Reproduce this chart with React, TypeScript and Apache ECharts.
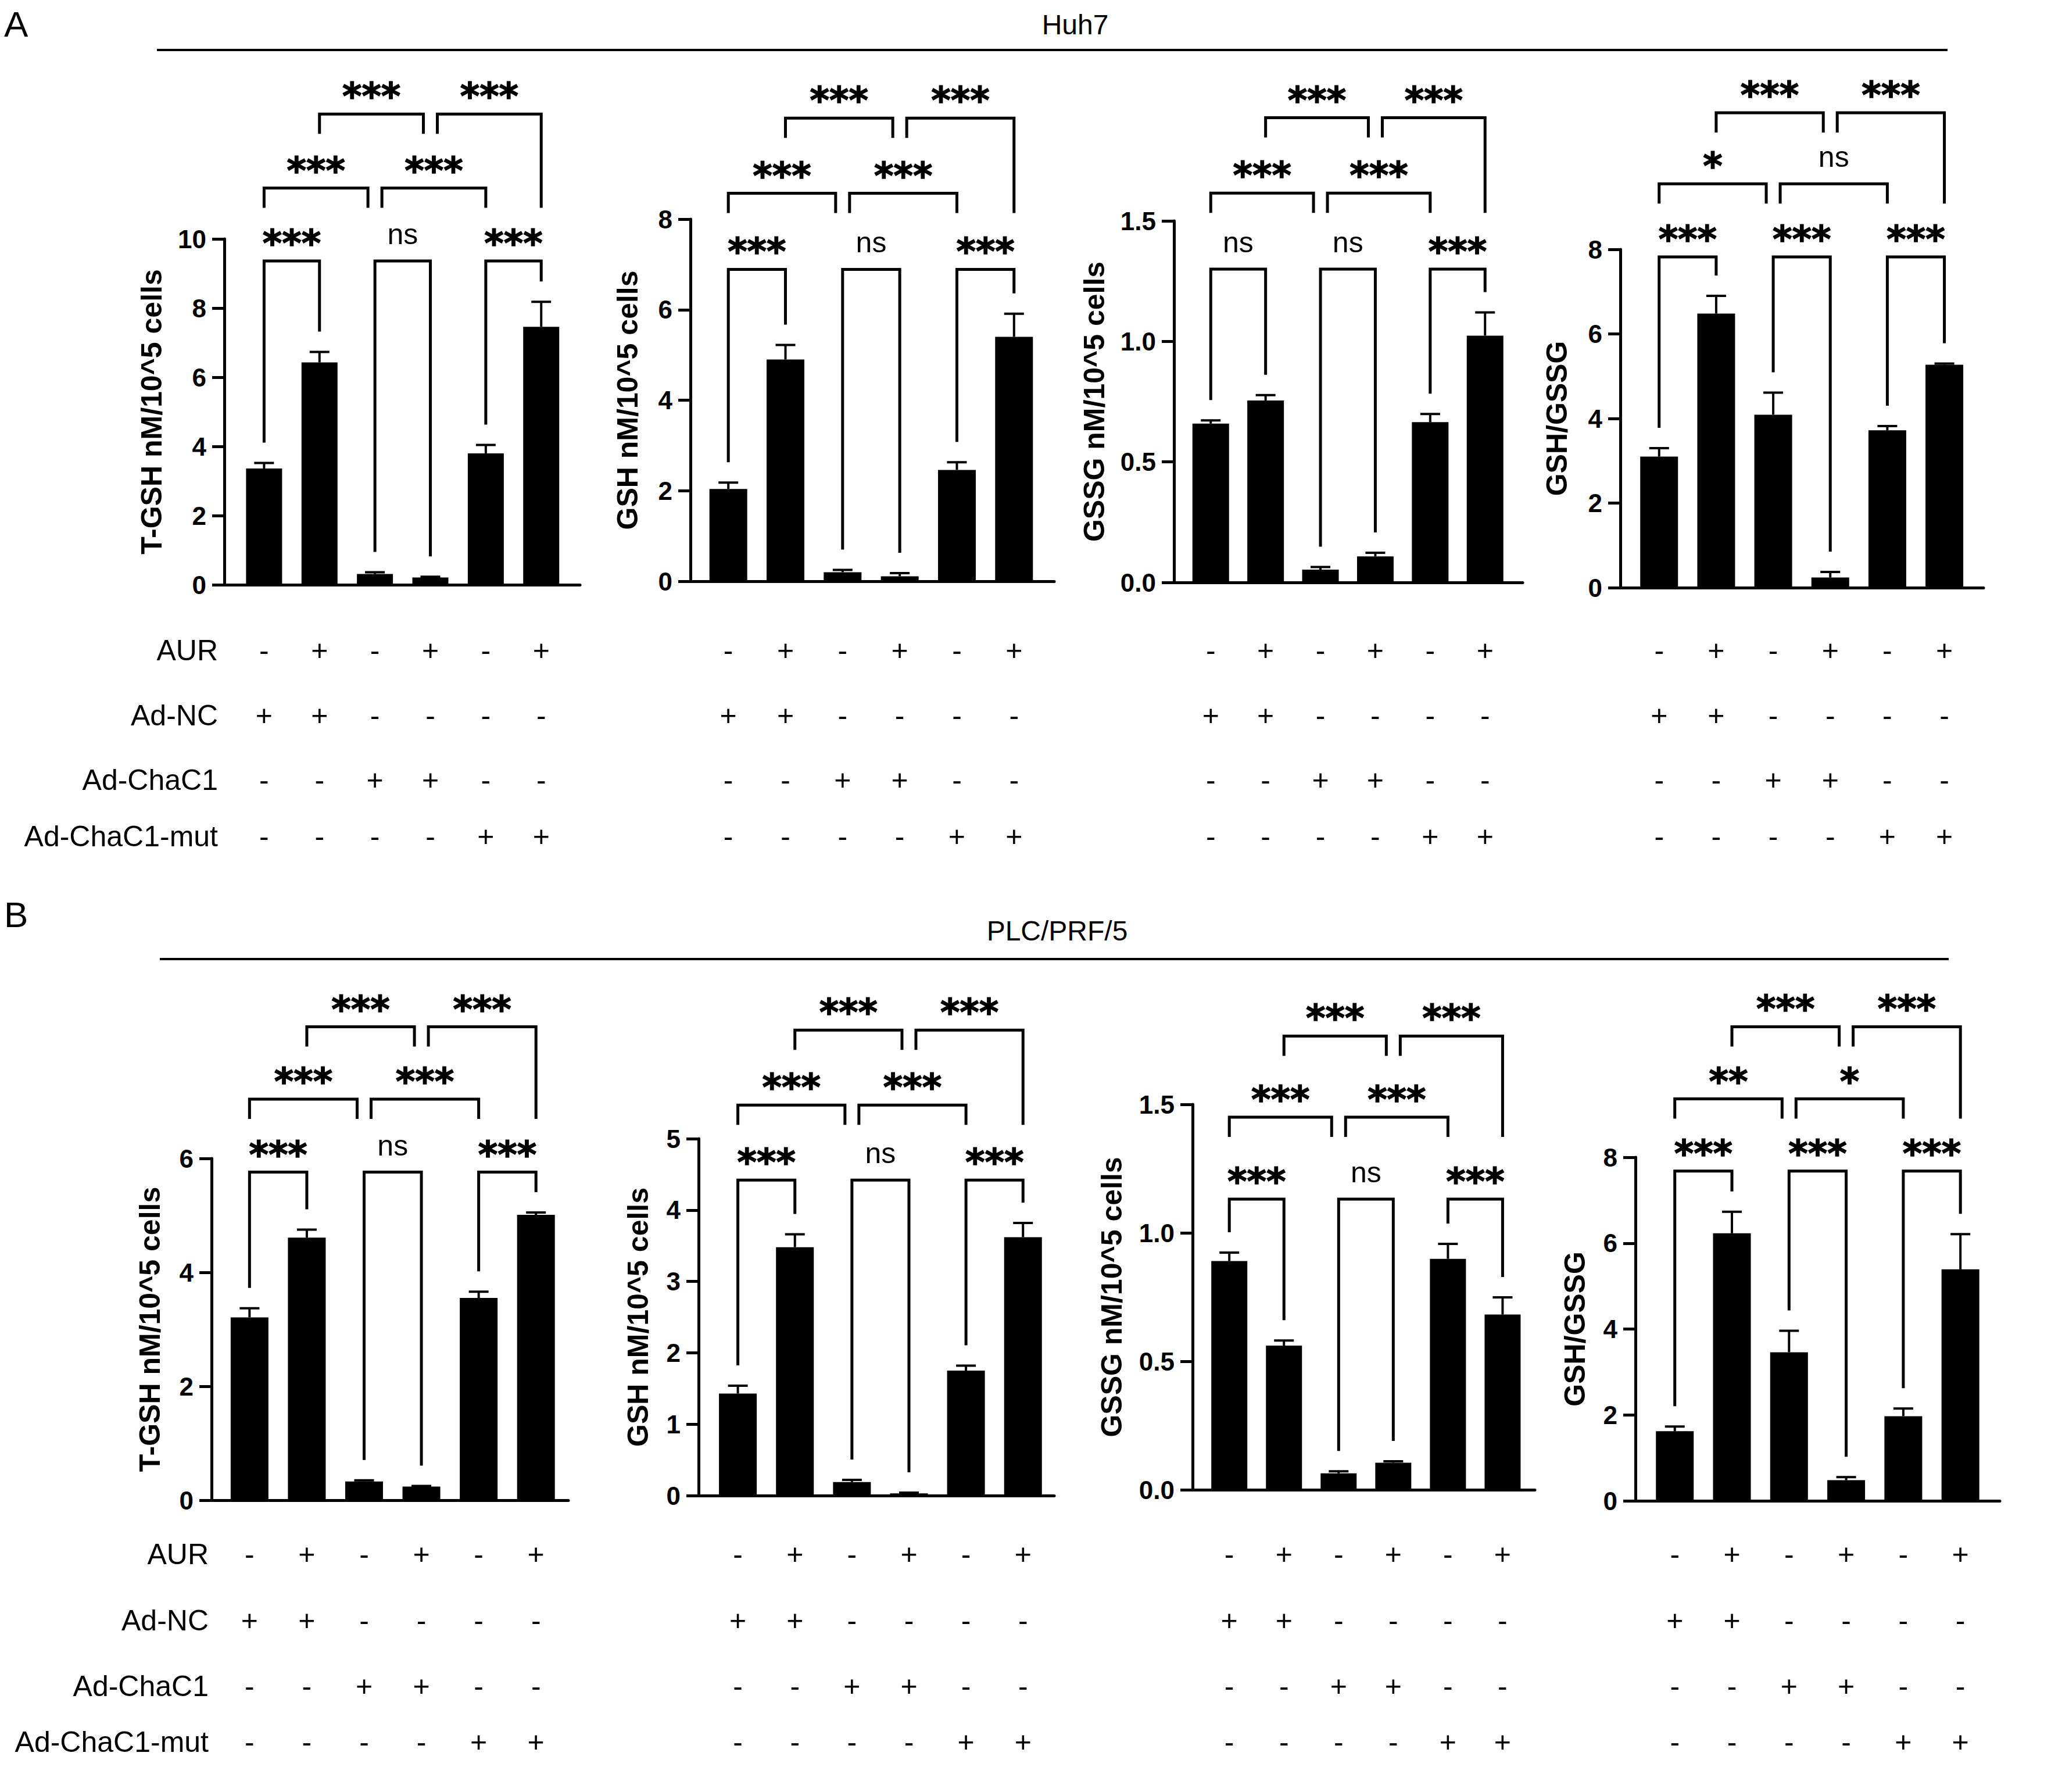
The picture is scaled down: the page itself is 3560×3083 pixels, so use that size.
import React, { useEffect, useRef } from "react";
import * as echarts from "echarts";

// ---------- treatment table (shared by every panel) ----------
const conditionNames = ["AUR", "Ad-NC", "Ad-ChaC1", "Ad-ChaC1-mut"];
const aurRow = ["-", "+", "-", "+", "-", "+"];
const adNcRow = ["+", "+", "-", "-", "-", "-"];
const adChac1Row = ["-", "-", "+", "+", "-", "-"];
const adChac1MutRow = ["-", "-", "-", "-", "+", "+"];
const conditionRows = [aurRow, adNcRow, adChac1Row, adChac1MutRow];

// ---------- Huh7 ----------
const huh7TgshMean = [3.36, 6.43, 0.31, 0.21, 3.8, 7.46];
const huh7TgshSem = [0.16, 0.3, 0.05, 0.02, 0.24, 0.72];
const huh7GshMean = [2.04, 4.9, 0.2, 0.11, 2.46, 5.4];
const huh7GshSem = [0.14, 0.32, 0.05, 0.07, 0.17, 0.51];
const huh7GssgMean = [0.659, 0.755, 0.053, 0.108, 0.665, 1.024];
const huh7GssgSem = [0.013, 0.022, 0.011, 0.015, 0.034, 0.096];
const huh7RatioMean = [3.1, 6.48, 4.09, 0.24, 3.72, 5.27];
const huh7RatioSem = [0.2, 0.42, 0.52, 0.13, 0.1, 0.03];

// ---------- PLC/PRF/5 ----------
const plcTgshMean = [3.21, 4.61, 0.33, 0.24, 3.55, 5.01];
const plcTgshSem = [0.16, 0.14, 0.02, 0.01, 0.11, 0.04];
const plcGshMean = [1.43, 3.48, 0.19, 0.03, 1.75, 3.62];
const plcGshSem = [0.11, 0.18, 0.03, 0.01, 0.07, 0.2];
const plcGssgMean = [0.89, 0.561, 0.064, 0.105, 0.899, 0.682];
const plcGssgSem = [0.033, 0.02, 0.008, 0.006, 0.058, 0.067];
const plcRatioMean = [1.62, 6.23, 3.46, 0.48, 1.97, 5.39];
const plcRatioSem = [0.11, 0.5, 0.5, 0.07, 0.18, 0.82];

// significance marks, in bracket order:
// 1v2, 3v4, 5v6 | 1v3, 3v5 | 2v4, 4v6
const huh7TgshSig = ["***", "ns", "***", "***", "***", "***", "***"];
const huh7GshSig = ["***", "ns", "***", "***", "***", "***", "***"];
const huh7GssgSig = ["ns", "ns", "***", "***", "***", "***", "***"];
const huh7RatioSig = ["***", "***", "***", "*", "ns", "***", "***"];
const plcTgshSig = ["***", "ns", "***", "***", "***", "***", "***"];
const plcGshSig = ["***", "ns", "***", "***", "***", "***", "***"];
const plcGssgSig = ["***", "ns", "***", "***", "***", "***", "***"];
const plcRatioSig = ["***", "***", "***", "**", "*", "***", "***"];

// ---------- comparison brackets ----------
const bracketPairs = [
  { from: 0, to: 1, level: 0 },
  { from: 2, to: 3, level: 0 },
  { from: 4, to: 5, level: 0 },
  { from: 0, to: 2, level: 1, shiftR: -12 },
  { from: 2, to: 4, level: 1, shiftL: 12 },
  { from: 1, to: 3, level: 2, shiftR: -12 },
  { from: 3, to: 5, level: 2, shiftL: 12, rightEnd: 1 },
];

// ---------- layout ----------
const rowsYA = [1119, 1231, 1342, 1439];
const rowsYB = [2674, 2788, 2901, 2997];

const panels = [
  {
    title: "T-GSH nM/10^5 cells", mean: huh7TgshMean, sem: huh7TgshSem, sig: huh7TgshSig,
    yMax: 10, yStep: 2, decimals: 0,
    grid: { left: 386, top: 411, width: 612, height: 595 }, xMin: -0.717, xMax: 5.7,
    barW: 62, nameGap: 100, levels: [9.36, 11.47, 13.61], rowsY: rowsYA,
  },
  {
    title: "GSH nM/10^5 cells", mean: huh7GshMean, sem: huh7GshSem, sig: huh7GshSig,
    yMax: 8, yStep: 2, decimals: 0,
    grid: { left: 1188, top: 377, width: 626, height: 623 }, xMin: -0.663, xMax: 5.704,
    barW: 65, nameGap: 83, levels: [6.89, 8.57, 10.23], rowsY: rowsYA,
  },
  {
    title: "GSSG nM/10^5 cells", mean: huh7GssgMean, sem: huh7GssgSem, sig: huh7GssgSig,
    yMax: 1.5, yStep: 0.5, decimals: 1,
    grid: { left: 2020, top: 380, width: 600, height: 622 }, xMin: -0.67, xMax: 5.686,
    barW: 63, nameGap: 112, levels: [1.3, 1.615, 1.928], rowsY: rowsYA,
  },
  {
    title: "GSH/GSSG", mean: huh7RatioMean, sem: huh7RatioSem, sig: huh7RatioSig,
    yMax: 8, yStep: 2, decimals: 0,
    grid: { left: 2788, top: 429, width: 625, height: 582 }, xMin: -0.68, xMax: 5.687,
    barW: 65, nameGap: 84, levels: [7.82, 9.55, 11.23], rowsY: rowsYA,
  },
  {
    title: "T-GSH nM/10^5 cells", mean: plcTgshMean, sem: plcTgshSem, sig: plcTgshSig,
    yMax: 6, yStep: 2, decimals: 0,
    grid: { left: 364, top: 1993, width: 614, height: 588 }, xMin: -0.663, xMax: 5.566,
    barW: 65, nameGap: 81, levels: [5.76, 7.04, 8.31], rowsY: rowsYB,
  },
  {
    title: "GSH nM/10^5 cells", mean: plcGshMean, sem: plcGshSem, sig: plcGshSig,
    yMax: 5, yStep: 1, decimals: 0,
    grid: { left: 1202, top: 1959, width: 612, height: 614 }, xMin: -0.689, xMax: 5.548,
    barW: 65, nameGap: 79.5, levels: [4.42, 5.47, 6.52], rowsY: rowsYB,
  },
  {
    title: "GSSG nM/10^5 cells", mean: plcGssgMean, sem: plcGssgSem, sig: plcGssgSig,
    yMax: 1.5, yStep: 0.5, decimals: 1,
    grid: { left: 2052, top: 1900, width: 589, height: 663 }, xMin: -0.672, xMax: 5.591,
    barW: 62, nameGap: 114, levels: [1.131, 1.45, 1.766], rowsY: rowsYB,
  },
  {
    title: "GSH/GSSG", mean: plcRatioMean, sem: plcRatioSem, sig: plcRatioSig,
    yMax: 8, yStep: 2, decimals: 0,
    grid: { left: 2814, top: 1991, width: 627, height: 591 }, xMin: -0.689, xMax: 5.69,
    barW: 65, nameGap: 79.5, levels: [7.68, 9.36, 11.04], rowsY: rowsYB,
  },
];

const FONT = "Liberation Sans";
const LINE_W = 5;
const LEG_GAP = 35; // space between a leg end and its bar's error cap
const LEG_LEN = 34; // leg length of the upper brackets

function textStyle(text: string, font: string, align: string, vAlign = "middle") {
  return {
    text,
    font,
    fill: "#000",
    align,
    verticalAlign: vAlign,
    textAlign: align,
    textVerticalAlign: vAlign,
  };
}

function buildOption() {
  const grid: any[] = [];
  const xAxis: any[] = [];
  const yAxis: any[] = [];
  const series: any[] = [];

  panels.forEach((p, k) => {
    grid.push({ ...p.grid, containLabel: false });
    xAxis.push({
      gridIndex: k,
      type: "value",
      min: p.xMin,
      max: p.xMax,
      axisLine: { show: true, onZero: true, lineStyle: { color: "#000", width: LINE_W } },
      axisTick: { show: false },
      axisLabel: { show: false },
      splitLine: { show: false },
    });
    yAxis.push({
      gridIndex: k,
      type: "value",
      min: 0,
      max: p.yMax,
      interval: p.yStep,
      name: p.title,
      nameLocation: "middle",
      nameRotate: 90,
      nameGap: p.nameGap,
      nameTextStyle: { fontFamily: FONT, fontWeight: "bold", fontSize: 50, color: "#000" },
      axisLine: { show: true, onZero: false, lineStyle: { color: "#000", width: LINE_W } },
      axisTick: { show: true, length: 21, lineStyle: { color: "#000", width: LINE_W } },
      axisLabel: {
        margin: 31,
        fontFamily: FONT,
        fontWeight: "bold",
        fontSize: 44,
        color: "#000",
        formatter: (v: number) => v.toFixed(p.decimals),
      },
      splitLine: { show: false },
    });

    // bars
    series.push({
      type: "bar",
      xAxisIndex: k,
      yAxisIndex: k,
      barWidth: p.barW,
      itemStyle: { color: "#000" },
      data: p.mean.map((m, i) => [i, m]),
      z: 2,
    });

    // upward error bars
    series.push({
      type: "custom",
      xAxisIndex: k,
      yAxisIndex: k,
      clip: false,
      silent: true,
      z: 3,
      encode: { x: 0, y: 1 },
      data: p.mean.map((m, i) => [i, m, p.sem[i]]),
      renderItem: (params: any, api: any) => {
        const x = api.value(0);
        const v = api.value(1);
        const e = api.value(2);
        const base = api.coord([x, v]);
        const top = api.coord([x, v + e]);
        return {
          type: "group",
          children: [
            {
              type: "line",
              shape: { x1: base[0], y1: base[1], x2: top[0], y2: top[1] },
              style: { stroke: "#000", lineWidth: 4 },
            },
            {
              type: "line",
              shape: { x1: top[0] - 17, y1: top[1], x2: top[0] + 17, y2: top[1] },
              style: { stroke: "#000", lineWidth: 4 },
            },
          ],
        };
      },
    });

    // significance brackets
    series.push({
      type: "custom",
      xAxisIndex: k,
      yAxisIndex: k,
      clip: false,
      silent: true,
      z: 4,
      encode: { x: 0, y: 1 },
      data: bracketPairs.map((b) => [b.from, p.levels[b.level]]),
      renderItem: (params: any, api: any) => {
        const b: any = bracketPairs[params.dataIndex];
        const yLine = api.coord([0, p.levels[b.level]])[1];
        const xL = api.coord([b.from, 0])[0] + (b.shiftL || 0);
        const xR = api.coord([b.to, 0])[0] + (b.shiftR || 0);
        const legEnd = (idx: number, lvl: number | null) =>
          lvl == null
            ? api.coord([0, p.mean[idx] + p.sem[idx]])[1] - LEG_GAP
            : api.coord([0, p.levels[lvl]])[1] + LEG_LEN;
        const leftLvl = b.level === 0 ? null : b.level;
        const rightLvl = b.level === 0 ? null : b.rightEnd != null ? b.rightEnd : b.level;
        const yL = legEnd(b.from, leftLvl);
        const yR = legEnd(b.to, rightLvl);
        const sig = p.sig[params.dataIndex];
        const isStar = sig.indexOf("*") >= 0;
        const labelStyle: any = textStyle(
          sig,
          isStar ? 'bold 64px "DejaVu Sans"' : `50px "${FONT}"`,
          "center"
        );
        if (isStar) {
          labelStyle.stroke = "#000";
          labelStyle.lineWidth = 1.5;
        }
        return {
          type: "group",
          children: [
            {
              type: "polyline",
              shape: { points: [[xL, yL], [xL, yLine], [xR, yLine], [xR, yR]] },
              style: { stroke: "#000", lineWidth: LINE_W, fill: "none", lineJoin: "miter" },
            },
            {
              type: "text",
              x: (xL + xR) / 2,
              y: yLine - (isStar ? 30 : 46),
              style: labelStyle,
            },
          ],
        };
      },
    });

    // +/- treatment table under the bars
    series.push({
      type: "custom",
      xAxisIndex: k,
      yAxisIndex: k,
      clip: false,
      silent: true,
      encode: { x: 0, y: 1 },
      data: conditionRows.flatMap((row, r) => row.map((_s, c) => [c, r])),
      renderItem: (params: any, api: any) => {
        const c = api.value(0);
        const r = api.value(1);
        const x = api.coord([c, 0])[0];
        return {
          type: "text",
          x,
          y: p.rowsY[r],
          style: textStyle(conditionRows[r][c], `50px "${FONT}"`, "center"),
        };
      },
    });
  });

  const graphic: any[] = [
    { type: "text", x: 7, y: 41, style: textStyle("A", `62px "${FONT}"`, "left") },
    { type: "text", x: 7, y: 1573, style: textStyle("B", `62px "${FONT}"`, "left") },
    { type: "text", x: 1850, y: 42, style: textStyle("Huh7", `48px "${FONT}"`, "center") },
    { type: "text", x: 1819, y: 1601, style: textStyle("PLC/PRF/5", `48px "${FONT}"`, "center") },
    {
      type: "line",
      shape: { x1: 270, y1: 86, x2: 3351, y2: 86 },
      style: { stroke: "#000", lineWidth: 4 },
    },
    {
      type: "line",
      shape: { x1: 275, y1: 1650, x2: 3353, y2: 1650 },
      style: { stroke: "#000", lineWidth: 4 },
    },
  ];
  conditionNames.forEach((name, r) => {
    graphic.push({ type: "text", x: 375, y: rowsYA[r], style: textStyle(name, `50px "${FONT}"`, "right") });
    graphic.push({ type: "text", x: 359, y: rowsYB[r], style: textStyle(name, `50px "${FONT}"`, "right") });
  });

  return {
    animation: false,
    backgroundColor: "#fff",
    grid,
    xAxis,
    yAxis,
    series,
    graphic,
  };
}

export default function App() {
  const ref = useRef<HTMLDivElement>(null);
  useEffect(() => {
    if (!ref.current) return;
    const chart = echarts.init(ref.current, null, { renderer: "svg" });
    chart.setOption(buildOption());
    return () => chart.dispose();
  }, []);
  return (
    <div
      ref={ref}
      style={{ position: "absolute", left: 0, top: 0, width: 3560, height: 3083, background: "#fff" }}
    />
  );
}
